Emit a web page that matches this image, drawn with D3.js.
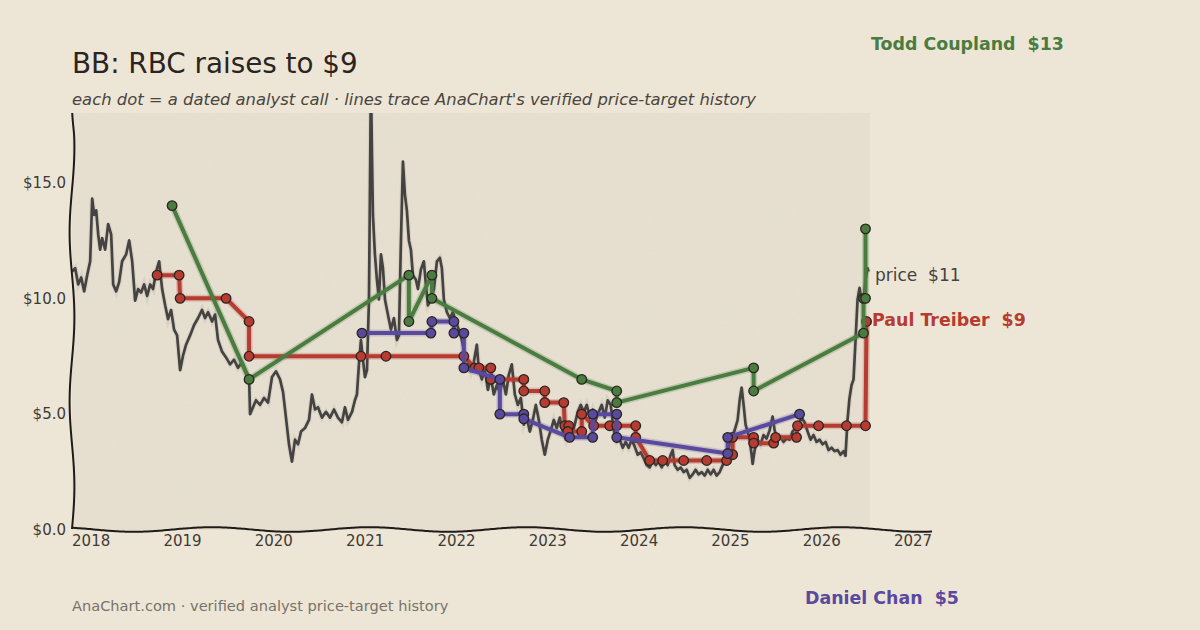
<html>

<head>
    <meta charset="utf-8" />
    <script src="https://cdn.jsdelivr.net/npm/d3@7/dist/d3.min.js"></script>
    <style>
        body { margin: 0; background: #ede6d6; }
        text { font-family: "DejaVu Sans", sans-serif; white-space: pre; }
    </style>
</head>

<body>
    <script>
        var width = 1200;
        var height = 630;

        var titleText = 'BB: RBC raises to $9';
        var subtitleText = "each dot = a dated analyst call \u00b7 lines trace AnaChart's verified price-target history";
        var footerText = 'AnaChart.com \u00b7 verified analyst price-target history';

        var yearTicks = [2018, 2019, 2020, 2021, 2022, 2023, 2024, 2025, 2026, 2027];
        var dollarTicks = [0, 5, 10, 15];

        // share price, [decimal year, close]
        var pricePoints = [
            [2017.792, 11.15], [2017.825, 11.3], [2017.858, 10.6], [2017.891, 10.9], [2017.923, 10.3], [2017.956, 11.0],
            [2017.989, 11.6], [2018.011, 14.3], [2018.033, 13.6], [2018.055, 13.8], [2018.077, 12.75], [2018.098, 12.1],
            [2018.120, 12.6], [2018.153, 12.1], [2018.186, 13.2], [2018.219, 12.75], [2018.241, 10.6], [2018.274, 10.3],
            [2018.306, 10.7], [2018.339, 11.6], [2018.383, 11.9], [2018.416, 12.5], [2018.449, 11.6], [2018.481, 9.9],
            [2018.514, 10.4], [2018.547, 10.25], [2018.580, 10.6], [2018.613, 10.1], [2018.646, 10.6], [2018.678, 10.4],
            [2018.711, 11.15], [2018.744, 11.6], [2018.777, 10.4], [2018.810, 9.7], [2018.842, 9.1], [2018.875, 9.5],
            [2018.908, 8.65], [2018.941, 8.4], [2018.974, 6.9], [2019.007, 7.55], [2019.039, 8.0], [2019.083, 8.4],
            [2019.127, 8.85], [2019.171, 9.15], [2019.214, 9.5], [2019.247, 9.15], [2019.280, 9.4], [2019.324, 9.0],
            [2019.357, 9.3], [2019.389, 8.2], [2019.433, 7.7], [2019.477, 7.45], [2019.521, 7.15], [2019.565, 7.35],
            [2019.608, 7.0], [2019.652, 7.25], [2019.696, 6.85], [2019.729, 6.6], [2019.740, 5.0], [2019.772, 5.3],
            [2019.805, 5.6], [2019.849, 5.4], [2019.893, 5.7], [2019.937, 5.5], [2019.980, 6.6], [2020.024, 6.85],
            [2020.068, 6.5], [2020.101, 5.95], [2020.133, 4.85], [2020.166, 3.7], [2020.199, 2.95], [2020.232, 3.9],
            [2020.265, 3.7], [2020.298, 4.25], [2020.341, 4.4], [2020.385, 4.75], [2020.418, 5.85], [2020.451, 5.2],
            [2020.484, 5.3], [2020.527, 4.85], [2020.571, 5.1], [2020.615, 4.85], [2020.659, 5.2], [2020.702, 4.85],
            [2020.746, 4.65], [2020.779, 5.3], [2020.812, 4.75], [2020.856, 5.1], [2020.888, 5.6], [2020.910, 5.85],
            [2020.932, 7.15], [2020.954, 8.2], [2020.976, 7.35], [2020.998, 6.6], [2021.020, 6.9], [2021.042, 9.95],
            [2021.063, 19.5], [2021.074, 16.4], [2021.085, 13.6], [2021.107, 11.9], [2021.129, 10.8], [2021.151, 9.95],
            [2021.173, 11.9], [2021.195, 11.3], [2021.217, 9.95], [2021.249, 9.3], [2021.282, 8.65], [2021.315, 9.15],
            [2021.348, 8.2], [2021.370, 8.4], [2021.392, 12.5], [2021.414, 15.9], [2021.435, 14.5], [2021.457, 13.8],
            [2021.479, 12.5], [2021.501, 12.1], [2021.523, 11.0], [2021.556, 10.8], [2021.578, 10.4], [2021.611, 11.25],
            [2021.643, 11.6], [2021.665, 10.6], [2021.687, 9.7], [2021.720, 9.95], [2021.753, 10.4], [2021.786, 11.6],
            [2021.818, 11.75], [2021.840, 11.3], [2021.862, 9.95], [2021.895, 9.4], [2021.928, 9.15], [2021.961, 9.4],
            [2021.993, 9.0], [2022.026, 8.65], [2022.059, 8.2], [2022.092, 7.55], [2022.125, 7.25], [2022.158, 6.85],
            [2022.190, 7.25], [2022.223, 8.0], [2022.245, 6.9], [2022.278, 6.5], [2022.311, 6.9], [2022.344, 6.05],
            [2022.376, 6.6], [2022.409, 5.85], [2022.442, 6.25], [2022.475, 5.95], [2022.508, 6.5], [2022.541, 5.85],
            [2022.573, 6.7], [2022.606, 7.15], [2022.639, 5.85], [2022.672, 5.4], [2022.705, 5.7], [2022.737, 4.55],
            [2022.770, 4.85], [2022.803, 4.25], [2022.836, 4.75], [2022.869, 5.4], [2022.902, 4.75], [2022.934, 3.9],
            [2022.967, 3.25], [2023.000, 3.9], [2023.033, 4.3], [2023.066, 4.75], [2023.098, 4.4], [2023.131, 4.85],
            [2023.164, 4.25], [2023.197, 3.9], [2023.230, 4.4], [2023.263, 4.1], [2023.295, 4.55], [2023.328, 5.1],
            [2023.361, 5.4], [2023.394, 5.1], [2023.427, 5.4], [2023.460, 4.85], [2023.492, 5.2], [2023.525, 4.75],
            [2023.558, 5.1], [2023.591, 5.4], [2023.624, 4.85], [2023.656, 5.6], [2023.689, 5.4], [2023.722, 4.3],
            [2023.755, 3.8], [2023.788, 3.9], [2023.821, 3.55], [2023.853, 3.8], [2023.886, 3.55], [2023.919, 3.9],
            [2023.952, 3.6], [2023.985, 3.25], [2024.018, 3.35], [2024.050, 3.1], [2024.083, 2.8], [2024.116, 2.7],
            [2024.149, 3.0], [2024.182, 2.8], [2024.214, 2.95], [2024.247, 2.7], [2024.280, 2.95], [2024.313, 2.8],
            [2024.346, 3.25], [2024.368, 3.45], [2024.389, 2.8], [2024.422, 2.6], [2024.455, 2.7], [2024.488, 2.5],
            [2024.521, 2.6], [2024.554, 2.25], [2024.586, 2.4], [2024.619, 2.6], [2024.652, 2.4], [2024.685, 2.5],
            [2024.718, 2.35], [2024.751, 2.6], [2024.783, 2.4], [2024.816, 2.6], [2024.849, 2.35], [2024.882, 2.5],
            [2024.915, 2.8], [2024.947, 3.1], [2024.980, 3.55], [2025.013, 4.0], [2025.046, 4.3], [2025.079, 4.75],
            [2025.101, 5.6], [2025.123, 6.15], [2025.144, 5.4], [2025.166, 4.55], [2025.188, 4.25], [2025.210, 3.9],
            [2025.232, 3.25], [2025.243, 2.85], [2025.265, 3.45], [2025.298, 3.9], [2025.330, 3.7], [2025.363, 4.1],
            [2025.396, 3.95], [2025.429, 4.3], [2025.462, 4.9], [2025.484, 4.3], [2025.516, 3.9], [2025.549, 4.0],
            [2025.582, 3.8], [2025.615, 3.95], [2025.648, 3.9], [2025.680, 4.25], [2025.713, 4.4], [2025.746, 4.55],
            [2025.779, 4.85], [2025.812, 4.65], [2025.845, 4.25], [2025.877, 3.9], [2025.910, 4.1], [2025.943, 3.8],
            [2025.976, 3.9], [2026.009, 3.7], [2026.042, 3.8], [2026.074, 3.45], [2026.107, 3.55], [2026.140, 3.4],
            [2026.173, 3.45], [2026.206, 3.25], [2026.239, 3.4], [2026.260, 3.2], [2026.282, 4.75], [2026.304, 5.7],
            [2026.326, 6.25], [2026.348, 6.5], [2026.370, 8.2], [2026.392, 9.95], [2026.414, 10.45], [2026.435, 9.95],
            [2026.457, 9.85], [2026.479, 10.8], [2026.501, 11.3], [2026.512, 11.15]
        ];

        // analyst calls
        var paulYears = [2018.722, 2018.963, 2018.974, 2019.477, 2019.729, 2019.729, 2020.954, 2021.228, 2022.081,
            2022.201, 2022.245, 2022.376, 2022.376, 2022.737, 2022.737, 2022.967, 2022.967, 2023.175, 2023.186,
            2023.230, 2023.219, 2023.372, 2023.372, 2023.503, 2023.678, 2023.755, 2023.963, 2023.963, 2024.116,
            2024.258, 2024.488, 2024.740, 2024.958, 2025.024, 2025.024, 2025.254, 2025.254, 2025.473, 2025.495,
            2025.724, 2025.735, 2025.965, 2026.271, 2026.479, 2026.490];
        var paulTargets = [11, 11, 10, 10, 9, 7.5, 7.5, 7.5, 7.5, 7, 7, 7, 6.5, 6.5, 6, 6, 5.5, 5.5, 4.5, 4.5, 4.25,
            4.25, 5, 4.5, 4.5, 4.5, 4.5, 4, 3, 3, 3, 3, 3, 3.25, 4, 4, 3.75, 3.75, 4, 4, 4.5, 4.5, 4.5, 4.5, 9];

        var danielYears = [2020.965, 2021.720, 2021.731, 2021.972, 2021.972, 2022.081, 2022.081, 2022.475, 2022.475,
            2022.737, 2022.737, 2023.240, 2023.492, 2023.492, 2023.755, 2023.755, 2024.970, 2024.970, 2025.757];
        var danielTargets = [8.5, 8.5, 9, 9, 8.5, 8.5, 7, 6.5, 5, 5, 4.8, 4, 4, 5, 5, 4, 3.3, 4, 5];

        var toddYears = [2018.886, 2019.729, 2021.479, 2021.479, 2021.731, 2021.731, 2023.372, 2023.755, 2023.755,
            2025.254, 2025.254, 2026.457, 2026.457, 2026.479, 2026.479];
        var toddTargets = [14, 6.5, 11, 9, 11, 10, 6.5, 6, 5.5, 7, 6, 8.5, 10, 10, 13];

        var analysts = [
            { name: 'Paul Treiber', color: '#b63b31', years: paulYears, targets: paulTargets, label: [872, 320] },
            { name: 'Daniel Chan', color: '#5a4a9e', years: danielYears, targets: danielTargets, label: [805, 598] },
            { name: 'Todd Coupland', color: '#4a7c3f', years: toddYears, targets: toddTargets, label: [871, 44] }
        ];

        var plot = { left: 72, top: 113, bottom: 530, right: 870, axisEnd: 935 };

        var x = d3.scaleLinear().domain([2017.79, 2027.24]).range([plot.left, plot.axisEnd]);
        var y = d3.scaleLinear().domain([0, 18]).range([plot.bottom, plot.top]);

        var svg = d3.select('body')
            .append('svg')
            .attr('width', width)
            .attr('height', height)
            .style('background', '#ede6d6');

        var defs = svg.append('defs');
        defs.append('clipPath').attr('id', 'plot-clip')
            .append('rect')
            .attr('x', plot.left - 5).attr('y', plot.top)
            .attr('width', plot.right - plot.left + 20).attr('height', plot.bottom - plot.top + 10);
        var grain = defs.append('filter').attr('id', 'grain')
            .attr('x', 0).attr('y', 0).attr('width', '100%').attr('height', '100%');
        grain.append('feTurbulence').attr('type', 'fractalNoise').attr('baseFrequency', 0.85)
            .attr('numOctaves', 2).attr('stitchTiles', 'stitch');
        grain.append('feColorMatrix').attr('type', 'saturate').attr('values', 0);

        // plot panel
        svg.append('rect')
            .attr('x', plot.left).attr('y', plot.top)
            .attr('width', plot.right - plot.left).attr('height', plot.bottom - plot.top)
            .attr('fill', '#e7e0d1');
        svg.append('rect')
            .attr('x', plot.left).attr('y', plot.top)
            .attr('width', plot.right - plot.left).attr('height', plot.bottom - plot.top)
            .attr('filter', 'url(#grain)')
            .attr('opacity', 0.05);

        // titles
        svg.append('text').text(titleText)
            .attr('x', 72).attr('y', 73)
            .attr('font-size', 27.8).attr('fill', '#2b2521');
        svg.append('text').text(subtitleText)
            .attr('x', 72).attr('y', 105)
            .attr('font-size', 16.4).attr('font-style', 'italic').attr('fill', '#4a4540');
        svg.append('text').text(footerText)
            .attr('x', 72).attr('y', 611)
            .attr('font-size', 14.6).attr('fill', '#78726a');

        // price
        var chart = svg.append('g').attr('clip-path', 'url(#plot-clip)');
        var priceLine = d3.line()
            .x(function (d) { return x(d[0]); })
            .y(function (d) { return y(d[1]); });
        chart.append('path')
            .datum(pricePoints)
            .attr('d', priceLine)
            .attr('fill', 'none')
            .attr('stroke', '#cfc8ba')
            .attr('stroke-width', 5)
            .attr('opacity', 0.6);
        chart.append('path')
            .datum(pricePoints)
            .attr('d', priceLine)
            .attr('fill', 'none')
            .attr('stroke', '#454341')
            .attr('stroke-width', 2.7)
            .attr('stroke-linejoin', 'round');

        // analyst target histories
        var callLine = d3.line()
            .x(function (d) { return x(d.t); })
            .y(function (d) { return y(d.v); });

        analysts.forEach(function (a) {
            var calls = a.years.map(function (t, i) { return { t: t, v: a.targets[i] }; });
            var g = svg.append('g');
            g.append('path')
                .datum(calls)
                .attr('d', callLine)
                .attr('fill', 'none')
                .attr('stroke', a.color)
                .attr('stroke-width', 7)
                .attr('opacity', 0.22)
                .attr('stroke-linejoin', 'round');
            g.append('path')
                .datum(calls)
                .attr('d', callLine)
                .attr('fill', 'none')
                .attr('stroke', a.color)
                .attr('stroke-width', 4)
                .attr('stroke-linejoin', 'round');
            g.selectAll('circle')
                .data(calls)
                .enter()
                .append('circle')
                .attr('cx', function (d) { return x(d.t); })
                .attr('cy', function (d) { return y(d.v); })
                .attr('r', 4.8)
                .attr('fill', a.color)
                .attr('stroke', '#2a2522')
                .attr('stroke-width', 1.3);

            var last = a.targets[a.targets.length - 1];
            svg.append('text')
                .text(a.name + '  $' + d3.format('.0f')(last))
                .attr('x', a.label[0]).attr('y', a.label[1])
                .attr('dy', '0.35em')
                .attr('font-size', 17.4)
                .attr('font-weight', 'bold')
                .attr('fill', a.color);
        });

        var lastPrice = pricePoints[pricePoints.length - 1][1];
        svg.append('text')
            .text('price  $' + d3.format('.0f')(lastPrice))
            .attr('x', 875).attr('y', 275)
            .attr('dy', '0.35em')
            .attr('font-size', 17)
            .attr('fill', '#444240');

        // hand-drawn spines
        var wobble = d3.line().curve(d3.curveBasis);
        var leftSpine = d3.range(plot.top, plot.bottom + 1, 4).map(function (py) {
            return [plot.left + 2.4 * Math.sin((py - plot.top) / 27 + 0.3) * Math.min(1, (py - plot.top) / 30 + 0.3), py];
        });
        var bottomSpine = d3.range(plot.left, plot.axisEnd + 1, 4).map(function (px) {
            return [px, plot.bottom - 0.5 + 2.3 * Math.sin((px - plot.left) / 25 - 0.9)];
        });
        svg.append('path').attr('d', wobble(leftSpine))
            .attr('fill', 'none').attr('stroke', '#1f1b19').attr('stroke-width', 2);
        svg.append('path').attr('d', wobble(bottomSpine))
            .attr('fill', 'none').attr('stroke', '#1f1b19').attr('stroke-width', 2);

        // tick labels
        svg.selectAll('.ytick')
            .data(dollarTicks)
            .enter()
            .append('text')
            .attr('class', 'ytick')
            .text(function (d) { return '$' + d3.format('.1f')(d); })
            .attr('x', 66)
            .attr('y', function (d) { return y(d); })
            .attr('dy', '0.35em')
            .attr('text-anchor', 'end')
            .attr('font-size', 15)
            .attr('fill', '#3e3a36');
        svg.selectAll('.xtick')
            .data(yearTicks)
            .enter()
            .append('text')
            .attr('class', 'xtick')
            .text(function (d) { return d; })
            .attr('x', function (d) { return x(d); })
            .attr('y', 541)
            .attr('dy', '0.35em')
            .attr('text-anchor', 'middle')
            .attr('font-size', 15)
            .attr('fill', '#3e3a36');
    </script>
</body>

</html>
